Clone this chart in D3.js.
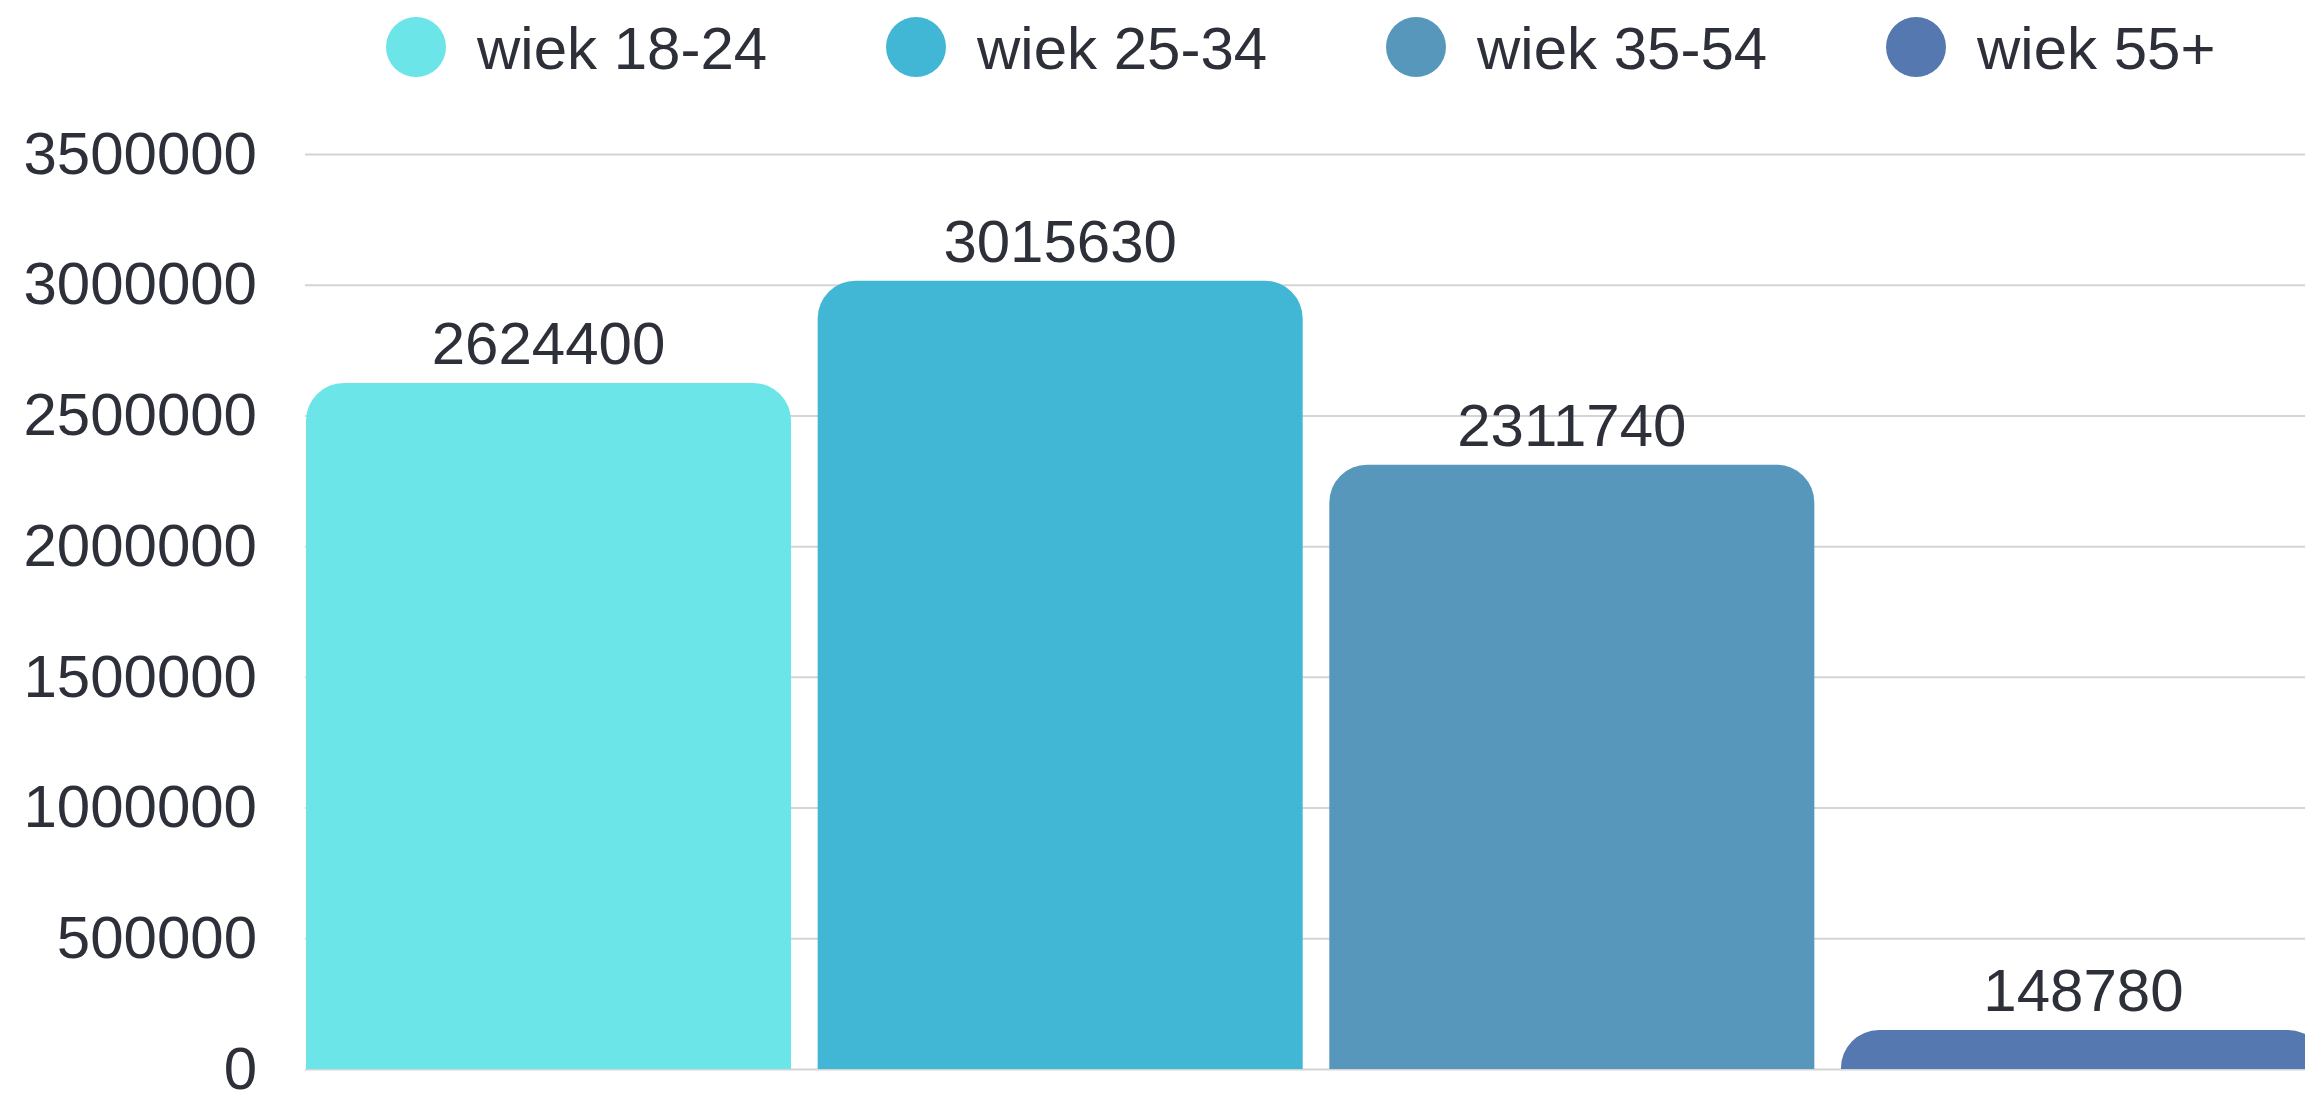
<!DOCTYPE html>
<html>
<head>
<meta charset="utf-8">
<script src="https://cdn.jsdelivr.net/npm/d3@7"></script>
<style>
  html, body { margin: 0; padding: 0; background: #ffffff; overflow: hidden; }
  svg { display: block; }
  text { font-family: "Liberation Sans", Arial, Helvetica, sans-serif; fill: #2e3039; }
</style>
</head>
<body>
<svg id="chart" width="2305" height="1093"></svg>
<script>
const categories = ["wiek 18-24", "wiek 25-34", "wiek 35-54", "wiek 55+"];
const values = [2624400, 3015630, 2311740, 148780];
const colors = ["#6ce5e8", "#42b7d5", "#5897bc", "#5578b0"];
const yTicks = [0, 500000, 1000000, 1500000, 2000000, 2500000, 3000000, 3500000];

const W = 2305, H = 1093;
const plot = { left: 306, right: 2326, top: 154, bottom: 1069 };
const fontSize = 60;

const svg = d3.select("#chart");

const x = d3.scaleBand()
  .domain(categories)
  .range([plot.left, plot.right])
  .paddingInner(0.052)
  .paddingOuter(0);

const y = d3.scaleLinear()
  .domain([0, 3500000])
  .range([plot.bottom, plot.top]);

// grid + y axis
const yAxis = d3.axisLeft(y)
  .tickValues(yTicks)
  .tickFormat(d3.format("d"))
  .tickSize(-(W - plot.left + 2))
  .tickPadding(48);

const gy = svg.append("g")
  .attr("transform", `translate(${plot.left - 1},0)`)
  .call(yAxis);
gy.select(".domain").remove();
gy.selectAll(".tick line").attr("stroke", "#d4d4d4").attr("stroke-width", 2);
gy.selectAll(".tick text")
  .attr("font-size", fontSize)
  .attr("fill", "#2e3039")
  .style("font-family", '"Liberation Sans", Arial, sans-serif');

// bars with rounded top corners
function topRounded(x0, y0, w, h, r) {
  r = Math.min(r, h, w / 2);
  return `M${x0},${y0 + h}` +
    `L${x0},${y0 + r}` +
    `A${r},${r} 0 0 1 ${x0 + r},${y0}` +
    `L${x0 + w - r},${y0}` +
    `A${r},${r} 0 0 1 ${x0 + w},${y0 + r}` +
    `L${x0 + w},${y0 + h}Z`;
}

const data = categories.map((c, i) => ({ c, v: values[i], color: colors[i] }));

svg.append("g").selectAll("path")
  .data(data)
  .join("path")
  .attr("d", d => topRounded(x(d.c), y(d.v), x.bandwidth(), y(0) - y(d.v), 38))
  .attr("fill", d => d.color);

// value labels
svg.append("g").selectAll("text")
  .data(data)
  .join("text")
  .attr("x", d => x(d.c) + x.bandwidth() / 2)
  .attr("y", d => y(d.v) - 19)
  .attr("text-anchor", "middle")
  .attr("font-size", fontSize)
  .text(d => d.v);

// legend
const legend = svg.append("g");
const legendStart = 416, legendStep = 500, legendY = 47;
const items = legend.selectAll("g")
  .data(data)
  .join("g")
  .attr("transform", (d, i) => `translate(${legendStart + i * legendStep},${legendY})`);
items.append("circle")
  .attr("r", 30)
  .attr("fill", d => d.color);
items.append("text")
  .attr("x", 61)
  .attr("y", 22)
  .attr("font-size", fontSize)
  .text(d => d.c);
</script>
</body>
</html>
